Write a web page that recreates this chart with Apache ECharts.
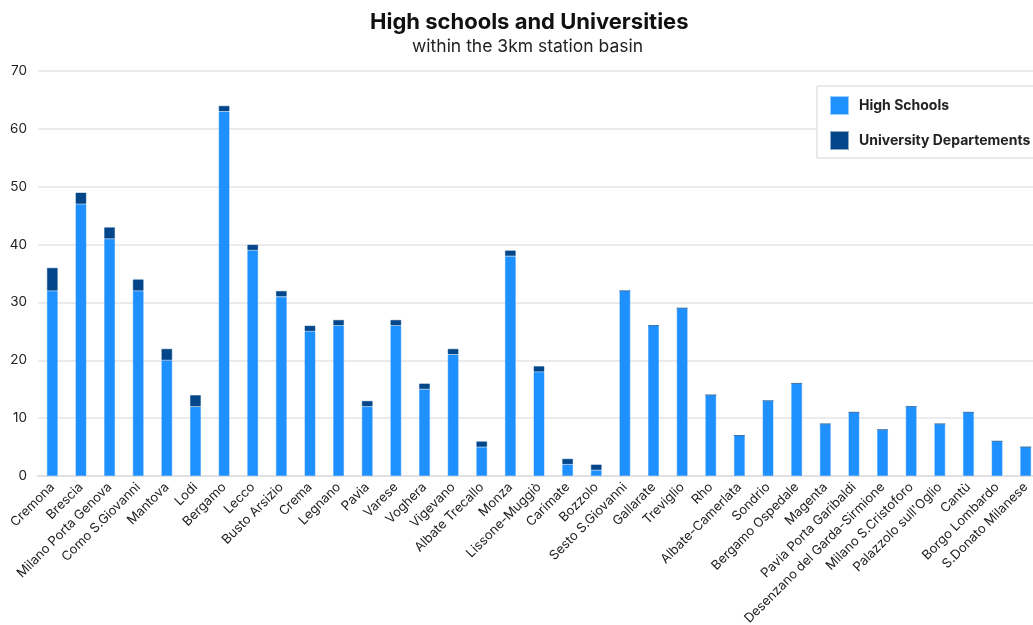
<!DOCTYPE html>
<html>
<head>
<meta charset="utf-8">
<script src="https://cdn.jsdelivr.net/npm/echarts@6/dist/echarts.min.js"></script>
<style>
  html, body { margin: 0; padding: 0; background: #fff; }
  #chart { width: 1033px; height: 625px; }
</style>
</head>
<body>
<div id="chart"></div>
<script>
// Stations and counts of schools within 3 km
const stations = [
  'Cremona', 'Brescia', 'Milano Porta Genova', 'Como S.Giovanni', 'Mantova', 'Lodi',
  'Bergamo', 'Lecco', 'Busto Arsizio', 'Crema', 'Legnano', 'Pavia', 'Varese', 'Voghera',
  'Vigevano', 'Albate Trecallo', 'Monza', 'Lissone-Muggiò', 'Carimate', 'Bozzolo',
  'Sesto S.Giovanni', 'Gallarate', 'Treviglio', 'Rho', 'Albate-Camerlata', 'Sondrio',
  'Bergamo Ospedale', 'Magenta', 'Pavia Porta Garibaldi', 'Desenzano del Garda-Sirmione',
  'Milano S.Cristoforo', "Palazzolo sull'Oglio", 'Cantù', 'Borgo Lombardo', 'S.Donato Milanese'
];
const highSchools = [
  32, 47, 41, 32, 20, 12, 63, 39, 31, 25, 26, 12, 26, 15, 21, 5, 38, 18, 2, 1,
  32, 26, 29, 14, 7, 13, 16, 9, 11, 8, 12, 9, 11, 6, 5
];
const universityDepts = [
  4, 2, 2, 2, 2, 2, 1, 1, 1, 1, 1, 1, 1, 1, 1, 1, 1, 1, 1, 1,
  0, 0, 0, 0, 0, 0, 0, 0, 0, 0, 0, 0, 0, 0, 0
];
const yTicks = [0, 10, 20, 30, 40, 50, 60, 70];

const font = 'Inter, "Noto Sans", sans-serif';
const chart = echarts.init(document.getElementById('chart'), null, { renderer: 'canvas' });

chart.setOption({
  animation: false,
  textStyle: { fontFamily: font },
  title: [
    {
      text: 'High schools and Universities',
      left: 365, top: 6,
      textStyle: { fontFamily: font, fontSize: 22, fontWeight: 'bold', color: '#111' }
    },
    {
      text: 'within the 3km station basin',
      left: 407, top: 33,
      textStyle: { fontFamily: font, fontSize: 17.5, fontWeight: 'normal', color: '#222' }
    }
  ],
  legend: {
    orient: 'vertical',
    left: 817, top: 86,
    padding: [10, 20, 8, 13],
    itemWidth: 17, itemHeight: 17, itemGap: 16,
    icon: 'rect',
    borderColor: '#d4d4d4', borderWidth: 1, backgroundColor: '#fff',
    textStyle: { fontFamily: font, fontSize: 14, fontWeight: 'bold', color: '#222', padding: [0, 0, 0, 6] },
    data: ['High Schools', 'University Departements']
  },
  grid: { left: 38, right: -7, top: 71, bottom: 149, containLabel: false, outerBoundsMode: 'none' },
  xAxis: {
    type: 'category',
    data: stations,
    axisTick: { show: false },
    axisLine: { lineStyle: { color: '#e0e0e0', width: 2 } },
    axisLabel: { rotate: 45, interval: 0, fontFamily: font, fontSize: 13, color: '#222', margin: 9 }
  },
  yAxis: {
    type: 'value',
    min: yTicks[0], max: yTicks[yTicks.length - 1], interval: 10,
    axisLine: { show: false },
    axisTick: { show: false },
    splitLine: { lineStyle: { color: '#e4e4e4', width: 1.5 } },
    axisLabel: { fontFamily: font, fontSize: 13.5, color: '#222', margin: 11 }
  },
  series: [
    {
      name: 'High Schools',
      type: 'bar',
      stack: 'total',
      barWidth: 11,
      data: highSchools,
      itemStyle: { color: '#1f90ff', borderColor: 'rgba(31,144,255,0.45)', borderWidth: 1 }
    },
    {
      name: 'University Departements',
      type: 'bar',
      stack: 'total',
      barWidth: 11,
      data: universityDepts,
      itemStyle: { color: '#03468a', borderColor: 'rgba(3,70,138,0.45)', borderWidth: 1 }
    }
  ]
});
</script>
</body>
</html>
